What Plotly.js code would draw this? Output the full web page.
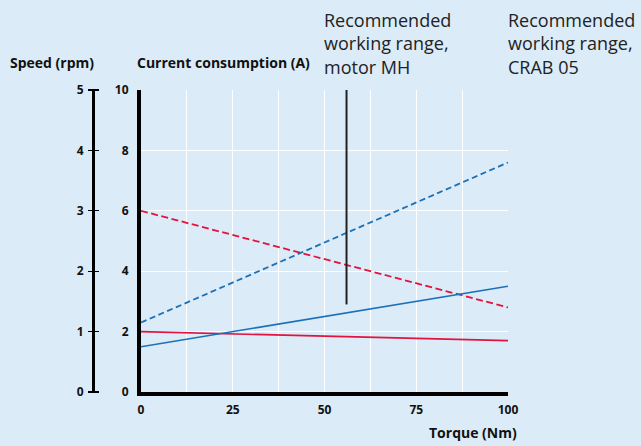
<!DOCTYPE html>
<html><head><meta charset="utf-8">
<script src="https://cdn.plot.ly/plotly-3.0.1.min.js"></script>
<style>html,body{margin:0;padding:0;background:#dbebf7;}#c{width:641px;height:446px;}</style>
</head><body><div id="c"></div>
<script>
// Data
var torque = [0, 100];
var currentSolidRed = [2.0, 1.7];
var currentDashRed = [6.0, 2.8];
var currentSolidBlue = [1.5, 3.5];
var currentDashBlue = [2.3, 7.6];
var rangeMarkerX = [56, 56];
var rangeMarkerY = [2.9, 10];
var xTicks = [0, 25, 50, 75, 100];
var currentTicks = [0, 2, 4, 6, 8, 10];
var speedTicks = [0, 1, 2, 3, 4, 5];

var red = '#e1133f', blue = '#1b70b8';
var F = 'Open Sans, sans-serif';

var traces = [
  {x: torque, y: currentSolidRed, mode: 'lines', line: {color: red, width: 1.6}},
  {x: torque, y: currentDashRed, mode: 'lines', line: {color: red, width: 1.8, dash: '7px,3.5px'}},
  {x: torque, y: currentSolidBlue, mode: 'lines', line: {color: blue, width: 1.6}},
  {x: torque, y: currentDashBlue, mode: 'lines', line: {color: blue, width: 1.8, dash: '6px,3.5px'}},
  {x: rangeMarkerX, y: rangeMarkerY, mode: 'lines', line: {color: '#222', width: 2}},
  {x: [0], y: [0], yaxis: 'y2', mode: 'markers', marker: {opacity: 0}, hoverinfo: 'skip'},
  {x: [0], y: [0], yaxis: 'y3', mode: 'markers', marker: {opacity: 0}, hoverinfo: 'skip'}
];

var tickFont = {family: F, size: 12, color: '#111', weight: 'bold'};
var layout = {
  width: 641, height: 446,
  margin: {l: 60, r: 133, t: 90, b: 54},
  paper_bgcolor: '#dbebf7', plot_bgcolor: '#dbebf7',
  showlegend: false,
  xaxis: {
    domain: [0.1808, 1], range: [0, 100], tickvals: xTicks, ticktext: xTicks.map(String),
    showgrid: true, gridcolor: '#ffffff', gridwidth: 1,
    minor: {dtick: 12.5, showgrid: true, gridcolor: '#ffffff', gridwidth: 1},
    showline: true, linecolor: '#000', linewidth: 4, zeroline: false,
    ticks: '', tickfont: tickFont, ticklabelstandoff: 4
  },
  yaxis: {
    range: [0, 10], tickvals: currentTicks, ticktext: currentTicks.map(String),
    showgrid: true, gridcolor: '#ffffff', gridwidth: 1,
    showline: true, linecolor: '#000', linewidth: 4, zeroline: false,
    ticks: '', tickfont: tickFont, ticklabelstandoff: 6
  },
  // speed axis: tick marks + labels (axis placed at tick right end)
  yaxis2: {
    overlaying: 'y', anchor: 'free', position: 0.0871, side: 'left',
    range: [0, 5], tickvals: speedTicks, ticktext: speedTicks.map(String),
    showgrid: false, zeroline: false, showline: false,
    ticks: 'outside', ticklen: 11, tickwidth: 1.2, tickcolor: '#000', tickfont: tickFont, ticklabelstandoff: 2
  },
  // speed axis: the thick line itself
  yaxis3: {
    overlaying: 'y', anchor: 'free', position: 0.0737, side: 'left',
    range: [0, 5], showticklabels: false, ticks: '',
    showgrid: false, zeroline: false, showline: true, linecolor: '#000', linewidth: 3
  },
  annotations: [
    {xref: 'paper', yref: 'paper', x: -0.1161, y: 1.0927, xanchor: 'left', yanchor: 'middle', showarrow: false,
     text: 'Speed (rpm)', font: {family: F, size: 14, color: '#111', weight: 'bold'}},
    {xref: 'paper', yref: 'paper', x: 0.1674, y: 1.0927, xanchor: 'left', yanchor: 'middle', showarrow: false,
     text: 'Current consumption (A)', font: {family: F, size: 14, color: '#111', weight: 'bold'}},
    {xref: 'paper', yref: 'paper', x: 0.5848, y: 1.278, xanchor: 'left', yanchor: 'top', align: 'left', showarrow: false,
     text: 'Recommended<br>working range,<br>motor MH', font: {family: F, size: 18, color: '#222'}},
    {xref: 'paper', yref: 'paper', x: 0.9953, y: 1.278, xanchor: 'left', yanchor: 'top', align: 'left', showarrow: false,
     text: 'Recommended<br>working range,<br>CRAB 05', font: {family: F, size: 18, color: '#222'}},
    {xref: 'paper', yref: 'paper', x: 1.0246, y: -0.1325, xanchor: 'right', yanchor: 'middle', showarrow: false,
     text: 'Torque (Nm)', font: {family: F, size: 14, color: '#111', weight: 'bold'}}
  ]
};
Plotly.newPlot('c', traces, layout, {displayModeBar: false, staticPlot: true});
</script></body></html>
